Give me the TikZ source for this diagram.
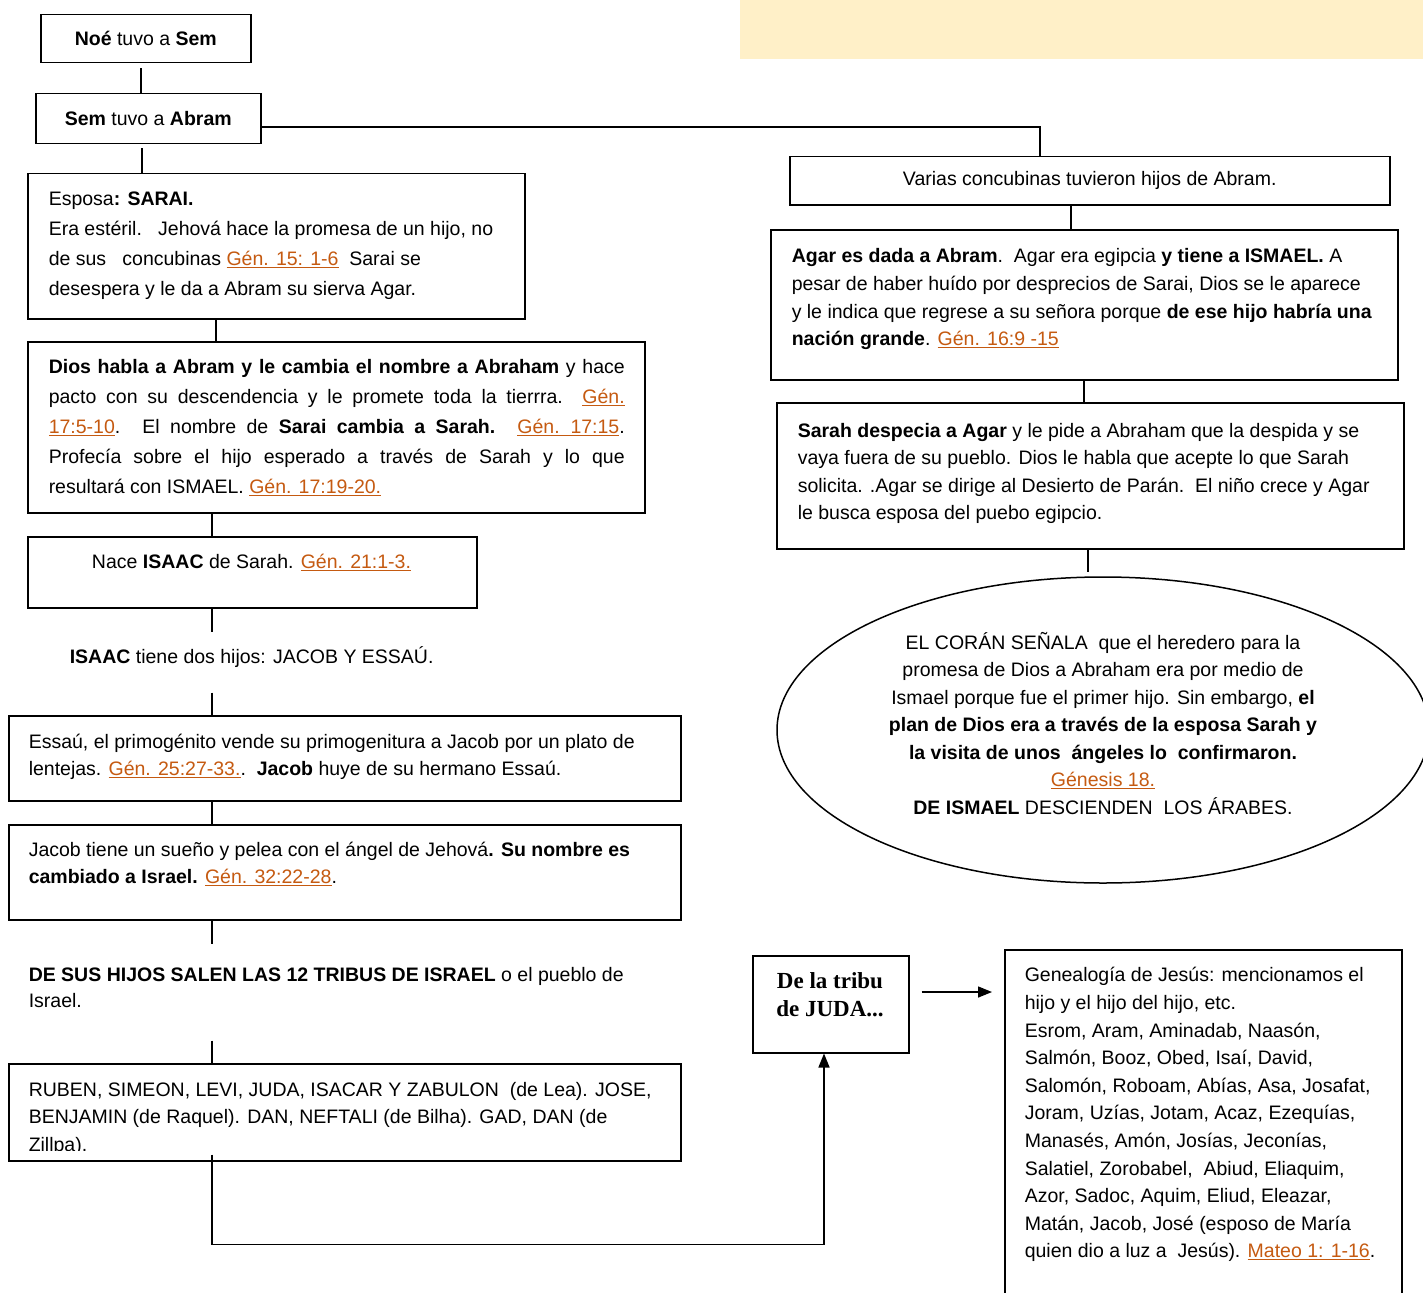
\documentclass[tikz,border=0pt]{standalone}
\usepackage{fontspec}
\setmainfont{Liberation Sans}
\newfontfamily\timesbf{Liberation Serif}
\usetikzlibrary{shapes.geometric,arrows.meta}
\definecolor{citacolor}{RGB}{197,90,17}
\definecolor{notacolor}{RGB}{255,240,200}
\newcommand{\cita}[1]{\textcolor{citacolor}{\underline{#1}}}
\newcommand{\jline}[1]{\makebox[576pt][s]{#1}}

\begin{document}
\begin{tikzpicture}[x=1pt,y=-1pt,line width=1.5pt,
        every node/.style={font=\fontsize{19.5}{27.5}\selectfont},
        box/.style={draw,anchor=north west,inner sep=0pt},
        frame/.style={anchor=north west,inner sep=0pt},
        texto/.style={anchor=north west,inner sep=0pt,align=left,execute at begin node=\rule{0pt}{20pt}}]
        \useasboundingbox (0, 0) rectangle (1423, 1292);
        \clip (0, 0) rectangle (1423, 1292);
        \fill[white] (0, 0) rectangle (1423, 1292);
        \fill[notacolor] (740, 0) rectangle (1423, 59);

        % ejes de las lineas
        \coordinate (ax1) at (141, 0);
        \coordinate (ax2) at (142, 0);
        \coordinate (ax3) at (216, 0);
        \coordinate (trunk) at (212, 0);
        \coordinate (ax4) at (1040, 0);
        \coordinate (ax5) at (1071, 0);
        \coordinate (ax6) at (1084, 0);
        \coordinate (ax7) at (1088, 0);
        \coordinate (ax8) at (824, 0);
        \coordinate (row1) at (0, 127);
        \coordinate (row2) at (0, 992);

        % columna izquierda
        \node[box, minimum width=210pt, minimum height=48pt] at (40, 14) (noe) {\textbf{Noé} tuvo a \textbf{Sem}};
        \node[box, minimum width=225pt, minimum height=50pt] at (35, 93) (sem) {\textbf{Sem} tuvo a \textbf{Abram}};
        \node[box, minimum width=497pt, minimum height=145pt] at (27, 173) (sarai) {};
        \node[box, minimum width=617pt, minimum height=171pt] at (27, 341) (pacto) {};
        \node[box, minimum width=449pt, minimum height=71pt] at (27, 536) (isaac) {};
        \node[frame, minimum width=449pt, minimum height=59pt] at (27, 632) (hijos) {};
        \node[box, minimum width=672pt, minimum height=85pt] at (8, 715) (essau) {};
        \node[box, minimum width=672pt, minimum height=95pt] at (8, 824) (jacob) {};
        \node[frame, minimum width=672pt, minimum height=95pt] at (8, 944) (tribus) {};
        \node[box, minimum width=672pt, minimum height=97pt] at (8, 1063) (ruben) {};
        \node[box, minimum width=156pt, minimum height=97pt] at (752, 955) (juda) {};
        \node[box, minimum width=397pt, minimum height=380pt] at (1004, 949) (gene) {};

        % columna derecha
        \node[box, minimum width=600pt, minimum height=48pt] at (789, 156) (concub) {Varias concubinas tuvieron hijos de Abram.};
        \node[box, minimum width=627pt, minimum height=150pt] at (770, 229) (agar) {};
        \node[box, minimum width=627pt, minimum height=146pt] at (776, 402) (despide) {};
        \node[draw, ellipse, inner sep=0pt, minimum width=652pt, minimum height=306pt] at (1103, 730) (coran) {};

        % textos
        \node[texto, font=\fontsize{19.5}{30}\selectfont] at (48, 191.5) (sarai-t) {Esposa\textbf{: SARAI.}\\
            Era estéril.\ \ \ Jehová hace la promesa de un hijo, no\\
            de sus\ \ \ concubinas \cita{Gén. 15: 1-6}\ \ Sarai se\\
            desespera y le da a Abram su sierva Agar.};
        \node[texto, font=\fontsize{19.5}{30}\selectfont] at (48, 358.3) (pacto-t) {\jline{\textbf{Dios habla a Abram y le cambia el nombre a Abraham} y hace}\\
            \jline{pacto con su descendencia y le promete toda la tierrra.\ \ \cita{Gén.}}\\
            \jline{\cita{17:5-10}. El nombre de \textbf{Sarai cambia a Sarah.} \cita{Gén.\ \ 17:15}.}\\
            \jline{Profecía sobre el hijo esperado a través de Sarah y lo que}\\
            resultará con ISMAEL. \cita{Gén. 17:19-20.}};
        \node[texto, anchor=north, align=center] at (251.5, 547.5) (isaac-t) {Nace \textbf{ISAAC} de Sarah. \cita{Gén. 21:1-3.}};
        \node[texto] at (69, 643) (hijos-t) {\textbf{ISAAC} tiene dos hijos: JACOB Y ESSAÚ.};
        \node[texto, font=\fontsize{19.5}{27}\selectfont] at (28, 733.8) (essau-t) {Essaú, el primogénito vende su primogenitura a Jacob por un plato de\\
            lentejas. \cita{Gén. 25:27-33.}.\ \ \textbf{Jacob} huye de su hermano Essaú.};
        \node[texto, font=\fontsize{19.5}{27}\selectfont] at (28, 841.8) (jacob-t) {Jacob tiene un sueño y pelea con el ángel de Jehová\textbf{. Su nombre es}\\
            \textbf{cambiado a Israel.} \cita{Gén. 32:22-28}.};
        \node[texto, font=\fontsize{19.5}{26.6}\selectfont] at (28, 966.2) (tribus-t) {\textbf{DE SUS HIJOS SALEN LAS 12 TRIBUS DE ISRAEL} o el pueblo de\\
            Israel.};
        \begin{scope}
            \clip (ruben.north west) rectangle ([yshift=11pt]ruben.south east);
            \node[texto, font=\fontsize{19.5}{27.6}\selectfont] at (28, 1081.2) (ruben-t) {RUBEN, SIMEON, LEVI, JUDA, ISACAR Y ZABULON\ \ (de Lea). JOSE,\\
                BENJAMIN (de Raquel). DAN, NEFTALI (de Bilha). GAD, DAN (de\\
                Zillpa).};
        \end{scope}
        \node[texto, anchor=north, align=center, font=\timesbf\bfseries\fontsize{23}{28.4}\selectfont] at (830, 971.3) (juda-t) {De la tribu\\de JUDA...};
        \node[texto, font=\fontsize{19.5}{27.6}\selectfont] at (1024, 966.7) (gene-t) {Genealogía de Jesús: mencionamos el\\
            hijo y el hijo del hijo, etc.\\
            Esrom, Aram, Aminadab, Naasón,\\
            Salmón, Booz, Obed, Isaí, David,\\
            Salomón, Roboam, Abías, Asa, Josafat,\\
            Joram, Uzías, Jotam, Acaz, Ezequías,\\
            Manasés, Amón, Josías, Jeconías,\\
            Salatiel, Zorobabel,\ \ Abiud, Eliaquim,\\
            Azor, Sadoc, Aquim, Eliud, Eleazar,\\
            Matán, Jacob, José (esposo de María\\
            quien dio a luz a\ \ Jesús). \cita{Mateo 1: 1-16}.};
        \node[texto, font=\fontsize{19.5}{27.7}\selectfont] at (791, 247.8) (agar-t) {\textbf{Agar es dada a Abram}.\ \ Agar era egipcia \textbf{y tiene a ISMAEL.} A\\
            pesar de haber huído por desprecios de Sarai, Dios se le aparece\\
            y le indica que regrese a su señora porque \textbf{de ese hijo habría una}\\
            \textbf{nación grande}. \cita{Gén. 16:9 -15}};
        \node[texto, font=\fontsize{19.5}{27.4}\selectfont] at (797, 422.5) (despide-t) {\textbf{Sarah despecia a Agar} y le pide a Abraham que la despida y se\\
            vaya fuera de su pueblo. Dios le habla que acepte lo que Sarah\\
            solicita. .Agar se dirige al Desierto de Parán.\ \ El niño crece y Agar\\
            le busca esposa del puebo egipcio.};
        \node[texto, anchor=north, align=center] at (1103, 631.5) (coran-t) {EL CORÁN SEÑALA\ \ que el heredero para la\\
            promesa de Dios a Abraham era por medio de\\
            Ismael porque fue el primer hijo. Sin embargo, \textbf{el}\\
            \textbf{plan de Dios era a través de la esposa Sarah y}\\
            \textbf{la visita de unos\ \ ángeles lo\ \ confirmaron.}\\
            \cita{Génesis 18.}\\
            \textbf{DE ISMAEL} DESCIENDEN\ \ LOS ÁRABES.};

        % lineas
        \path
            (noe.south -| ax1) edge[shorten <=5pt] (sem.north -| ax1)
            (sem.south -| ax2) edge[shorten <=4pt] (sarai.north -| ax2)
            (sarai.south -| ax3) edge (pacto.north -| ax3)
            (pacto.south -| trunk) edge (isaac.north -| trunk)
            (isaac.south -| trunk) edge (hijos.north -| trunk)
            (hijos.south -| trunk) edge (essau.north -| trunk)
            (essau.south -| trunk) edge (jacob.north -| trunk)
            (jacob.south -| trunk) edge (tribus.north -| trunk)
            (tribus.south -| trunk) edge (ruben.north -| trunk)
            (concub.south -| ax5) edge (agar.north -| ax5)
            (agar.south -| ax6) edge (despide.north -| ax6)
            (despide.south -| ax7) edge[shorten >=4pt] (coran.north -| ax7)
            ;
        \draw (sem.east |- row1) -| (concub.north -| ax4);
        \draw[-{Triangle[length=14pt, width=11pt]}] (ruben.south -| trunk) ++(0, -7) -- ++(0, 90) -| (juda.south -| ax8);
        \draw[-{Triangle[length=14pt, width=11pt]}, shorten <=12pt, shorten >=12pt] (juda.east |- row2) -- (gene.west |- row2);
\end{tikzpicture}
\end{document}
